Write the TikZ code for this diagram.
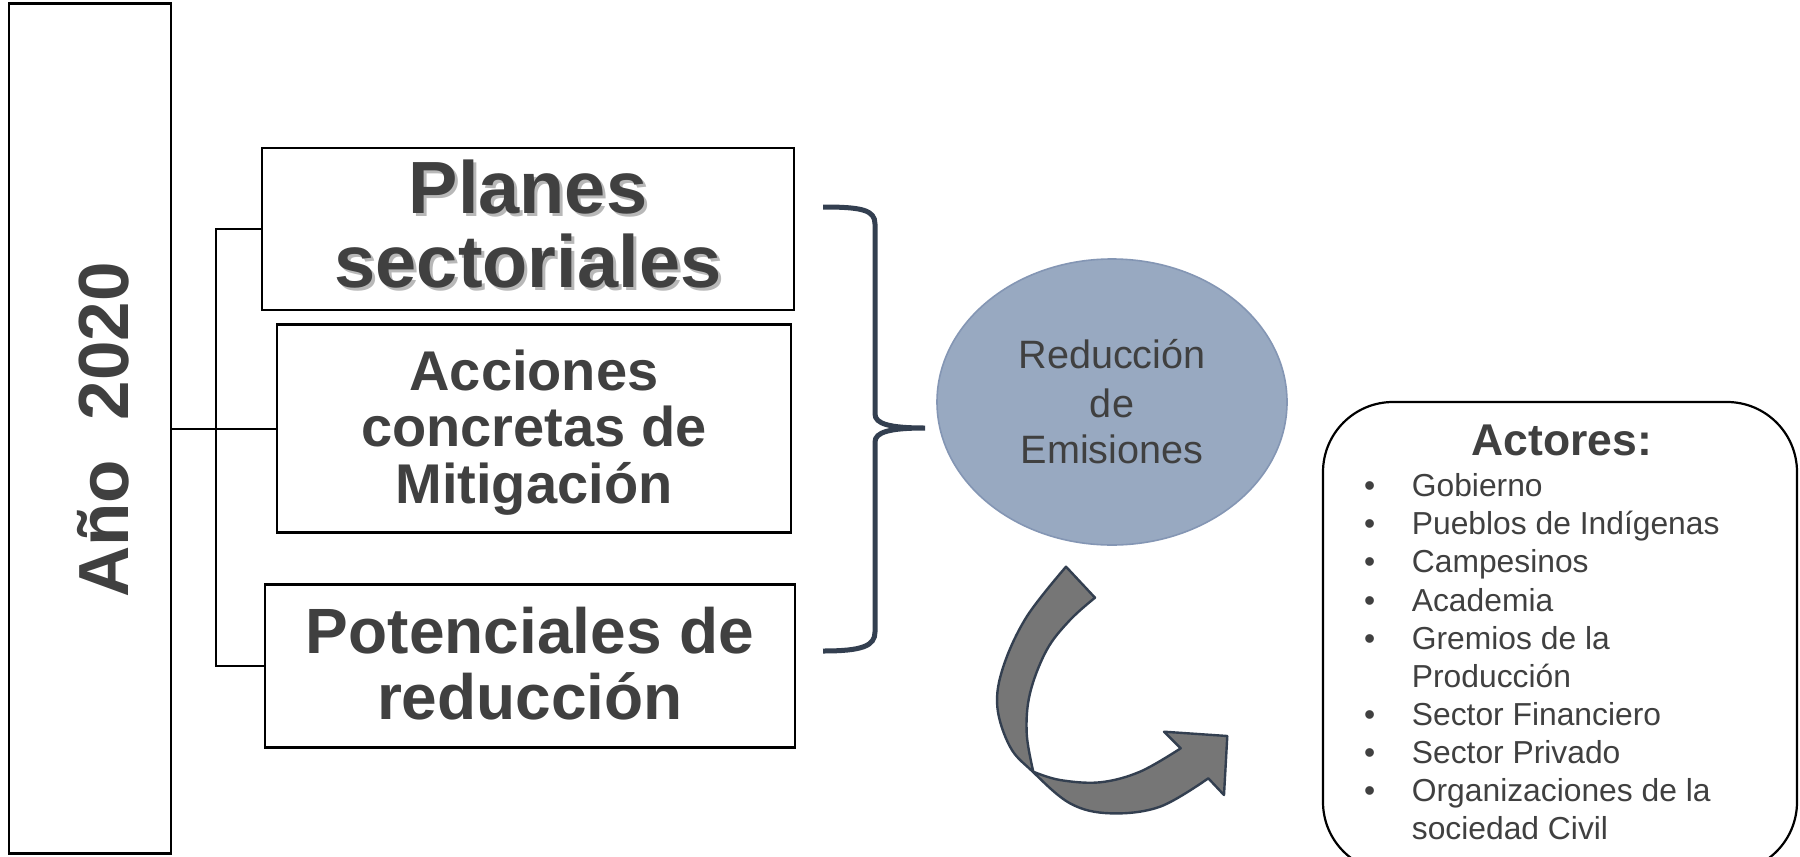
\documentclass[tikz,border=0pt]{standalone}
\usepackage{fontspec}
\setmainfont{Liberation Sans}
\usetikzlibrary{shapes.geometric}
\definecolor{txt}{HTML}{404040}
\definecolor{bracec}{HTML}{333F50}
\definecolor{ellfill}{HTML}{98A9C1}
\definecolor{elldraw}{HTML}{8496B4}
\definecolor{arrfill}{HTML}{767676}
\newcommand\aitem[1]{\hbox{\makebox[47.7pt][l]{\textbullet}#1}}
\newcommand\acont[1]{\hbox{\hspace{47.7pt}#1}}
\begin{document}
\begin{tikzpicture}[x=1pt,y=-1pt,
  boxn/.style={draw=black, line width=2.2pt, inner sep=0pt, fill=white},
  lbl/.style={anchor=base, inner sep=0pt, text=txt},
  shad/.style={anchor=base, inner sep=0pt, text=black!28},
  conn/.style={draw=black, line width=2pt},
  bracestyle/.style={draw=bracec, line width=5pt},
  ellstyle/.style={ellipse, draw=elldraw, line width=1.6pt, fill=ellfill, inner sep=0pt},
  arrowshape/.style={draw=bracec, line width=2.4pt, fill=arrfill, line join=round},
  actbox/.style={draw=black, line width=2.2pt, rounded corners=70pt, fill=white}]
\useasboundingbox (0,0) rectangle (1800,857);
\fill[white] (0,0) rectangle (1800,857);

% left box
\node[boxn, minimum width=162pt, minimum height=850pt] (year) at (90,428.5) {};
\node[lbl, rotate=90, font=\bfseries\fontsize{71}{80}\selectfont] (yeartxt) at (128,430) {Año\ \ 2020};

% three boxes
\node[boxn, minimum width=532pt, minimum height=162pt] (plan) at (528,229) {};
\node[boxn, minimum width=514pt, minimum height=208pt] (acc) at (534,428.5) {};
\node[boxn, minimum width=530pt, minimum height=163pt] (pot) at (530,666) {};

% connectors
\draw[conn] (year.east) -- (acc.west);
\draw[conn] (plan.west) -- ++(-45,0) coordinate (tl) |- (pot.west);

% box texts
\node[shad, font=\bfseries\fontsize{74}{76}\selectfont] (plan1s) at (531,216) {Planes};
\node[shad, font=\bfseries\fontsize{74}{76}\selectfont] (plan2s) at (531,290) {sectoriales};
\node[lbl, font=\bfseries\fontsize{74}{76}\selectfont] (plan1) at (528,213) {Planes};
\node[lbl, font=\bfseries\fontsize{74}{76}\selectfont] (plan2) at (528,287) {sectoriales};

\node[lbl, font=\bfseries\fontsize{56}{58}\selectfont] (acc1) at (534,390) {Acciones};
\node[lbl, font=\bfseries\fontsize{56}{58}\selectfont] (acc2) at (534,446.5) {concretas de};
\node[lbl, font=\bfseries\fontsize{56}{58}\selectfont] (acc3) at (534,503) {Mitigación};

\node[lbl, font=\bfseries\fontsize{64}{66}\selectfont] (pot1) at (530,653) {Potenciales de};
\node[lbl, font=\bfseries\fontsize{64}{66}\selectfont] (pot2) at (530,719.5) {reducción};

% brace
\draw[bracestyle] (823,207) .. controls (862,207) and (875,210) .. (875,224)
  -- (875,414) .. controls (875,424) and (890,428) .. (925,428)
  .. controls (890,428) and (875,432) .. (875,442)
  -- (875,632) .. controls (875,646) and (862,651) .. (823,651);

% ellipse
\node[ellstyle, minimum width=350pt, minimum height=286pt] (red) at (1112,402) {};
\node[lbl, font=\fontsize{39.6}{47.5}\selectfont] (red1) at (1112,368) {Reducción};
\node[lbl, font=\fontsize{39.6}{47.5}\selectfont] (red2) at (1112,417) {de};
\node[lbl, font=\fontsize{39.6}{47.5}\selectfont] (red3) at (1112,463) {Emisiones};

% curved arrow
\draw[arrowshape]
  plot[smooth, tension=0.6] coordinates {(1066,566.7) (1026.7,616.7) (1003.3,666.7) (997.3,706.7) (1010,746.7) (1031.7,770.7) (1070,803.3) (1110,813.3) (1160,806.7) (1208.3,778.3)}
  -- (1224,795) -- (1227.3,736) -- (1164,731.7) -- (1180.7,748.3)
  -- plot[smooth, tension=0.6] coordinates {(1180.7,748.3) (1140,771.7) (1100,782.3) (1060,780) (1033.3,771.7)}
  -- plot[smooth, tension=0.6] coordinates {(1033.3,771.7) (1026.7,733.3) (1030,693.3) (1046.7,650) (1070,620) (1095,597.7)}
  -- cycle;

% actors box
\draw[actbox] (1323,402) rectangle (1797,872);
\node[lbl, font=\bfseries\fontsize{44.5}{50}\selectfont] (acthead) at (1562,455) {Actores:};
\node[anchor=base west, inner sep=0pt, text=txt, font=\fontsize{31.8}{38.1}\selectfont] (actlist) at (1364,496.7)
 {\vtop{\hsize=430pt\baselineskip=38.1pt\lineskiplimit=-100pt\lineskip=0pt
   \aitem{Gobierno}
   \aitem{Pueblos de Indígenas}
   \aitem{Campesinos}
   \aitem{Academia}
   \aitem{Gremios de la}
   \acont{Producción}
   \aitem{Sector Financiero}
   \aitem{Sector Privado}
   \aitem{Organizaciones de la}
   \acont{sociedad Civil}}};
\end{tikzpicture}
\end{document}
